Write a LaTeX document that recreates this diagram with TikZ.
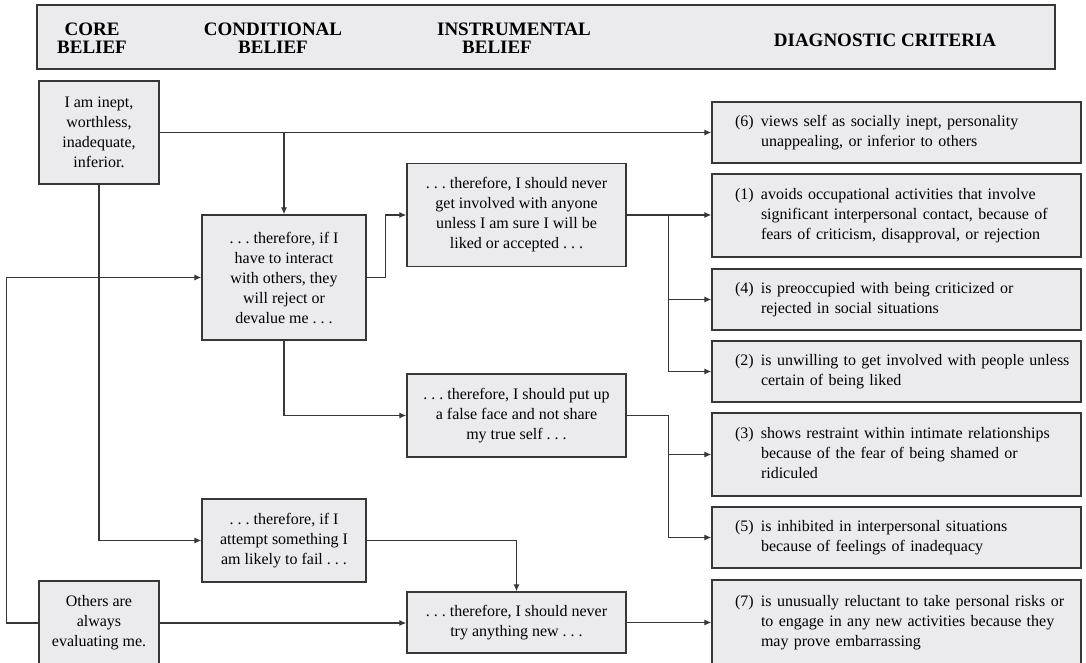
\documentclass[tikz,border=0pt]{standalone}
\usepackage{fontspec}
\setmainfont{Liberation Serif}
\usetikzlibrary{arrows.meta}
\definecolor{boxfill}{RGB}{235,235,238}
\definecolor{edgegray}{RGB}{55,55,55}
\newcommand{\crit}[2]{\begin{tabular}{@{}p{26pt}@{}l@{}}#1 & #2\end{tabular}}
\newcommand{\dts}{.\ .\ .}
\begin{document}
\begin{tikzpicture}[x=1pt,y=-1pt,
		box/.style={shape=rectangle,draw=edgegray,fill=boxfill,line width=1.3pt,inner sep=0pt,align=center,font=\fontsize{16}{20}\selectfont},
		critbox/.style={box,minimum width=369pt,text width=323pt,inner xsep=23pt,align=left},
		head/.style={align=center,font=\fontsize{19}{18}\selectfont\bfseries},
		arr/.style={draw=edgegray,line width=1.2pt,-{Latex[length=7pt,width=6pt]}}]
			\useasboundingbox (0,0) rectangle (1086,663);
			% header
			\node[shape=rectangle,draw=edgegray,fill=boxfill,line width=1.8pt,minimum width=1018pt,minimum height=64pt] (hdr) at (546,37) {};
			\node[head] (hcore) at (92,38) {CORE\\BELIEF};
			\node[head] (hcond) at (273,38) {CONDITIONAL\\BELIEF};
			\node[head] (hinst) at (514,38) {INSTRUMENTAL\\\hspace*{-34pt}BELIEF};
			\node[head] (hdiag) at (885,40) {DIAGNOSTIC CRITERIA};

			% core beliefs
			\node[box,minimum width=120pt,minimum height=103pt] (core1) at (99,132.5) {I am inept,\\worthless,\\inadequate,\\inferior.};
			\node[box,minimum width=120pt,minimum height=84pt] (core2) at (99,623) {Others are\\always\\evaluating me.};

			% conditional beliefs
			\node[box,minimum width=164pt,minimum height=125pt] (cond1) at (284,277.5) {\dts\ therefore, if I\\have to interact\\with others, they\\will reject or\\devalue me \dts};
			\node[box,minimum width=164pt,minimum height=83pt] (cond2) at (284,540.5) {\dts\ therefore, if I\\attempt something I\\am likely to fail \dts};

			% instrumental beliefs
			\node[box,minimum width=219pt,minimum height=103pt] (inst1) at (516.5,215) {\dts\ therefore, I should never\\get involved with anyone\\unless I am sure I will be\\liked or accepted \dts};
			\node[box,minimum width=219pt,minimum height=83pt] (inst2) at (516.5,415.5) {\dts\ therefore, I should put up\\a false face and not share\\my true self \dts};
			\node[box,minimum width=219pt,minimum height=61pt] (inst3) at (516.5,622.5) {\dts\ therefore, I should never\\try anything new \dts};

			% diagnostic criteria
			\node[critbox,minimum height=61pt] (crit6) at (896.5,132.5) {\crit{(6)}{views self as socially inept, personality\\ & unappealing, or inferior to others}};
			\node[critbox,minimum height=83pt] (crit1) at (896.5,215.5) {\crit{(1)}{avoids occupational activities that involve\\ & significant interpersonal contact, because of\\ & fears of criticism, disapproval, or rejection}};
			\node[critbox,minimum height=61pt] (crit4) at (896.5,299.5) {\crit{(4)}{is preoccupied with being criticized or\\ & rejected in social situations}};
			\node[critbox,minimum height=61pt] (crit2) at (896.5,371.5) {\crit{(2)}{is unwilling to get involved with people unless\\ & certain of being liked}};
			\node[critbox,minimum height=83pt] (crit3) at (896.5,454.5) {\crit{(3)}{shows restraint within intimate relationships\\ & because of the fear of being shamed or\\ & ridiculed}};
			\node[critbox,minimum height=61pt] (crit5) at (896.5,537.5) {\crit{(5)}{is inhibited in interpersonal situations\\ & because of feelings of inadequacy}};
			\node[critbox,minimum height=84pt] (crit7) at (896.5,622) {\crit{(7)}{is unusually reluctant to take personal risks or\\ & to engage in any new activities because they\\ & may prove embarrassing}};

			% connectors
			\draw[arr] (core1.east) -- (crit6.west |- core1.east);
			\draw[arr] (cond1.north |- core1.east) -- (cond1.north);
			\draw[arr] (core1.south) |- (cond2.west);
			\draw[arr] (core2.west) -- ++(-32,0) |- (cond1.west);
			\draw[arr] (core2.east) -- (inst3.west |- core2.east);
			\draw[arr] (cond1.east) -- ++(19,0) |- (inst1.west);
			\draw[arr] (cond1.south) |- (inst2.west);
			\draw[arr] (cond2.east) -| (inst3.north);
			\draw[arr] (inst1.east) -- (crit1.west |- inst1.east);
			\draw[arr] (inst1.east) ++(42,0) |- (crit4.west);
			\draw[arr] (inst1.east) ++(42,0) |- (crit2.west);
			\draw[arr] (inst2.east) -- ++(42,0) |- (crit3.west);
			\draw[arr] (inst2.east) ++(42,0) |- (crit5.west);
			\draw[arr] (inst3.east) -- (crit7.west |- inst3.east);

		\end{tikzpicture}
\end{document}
